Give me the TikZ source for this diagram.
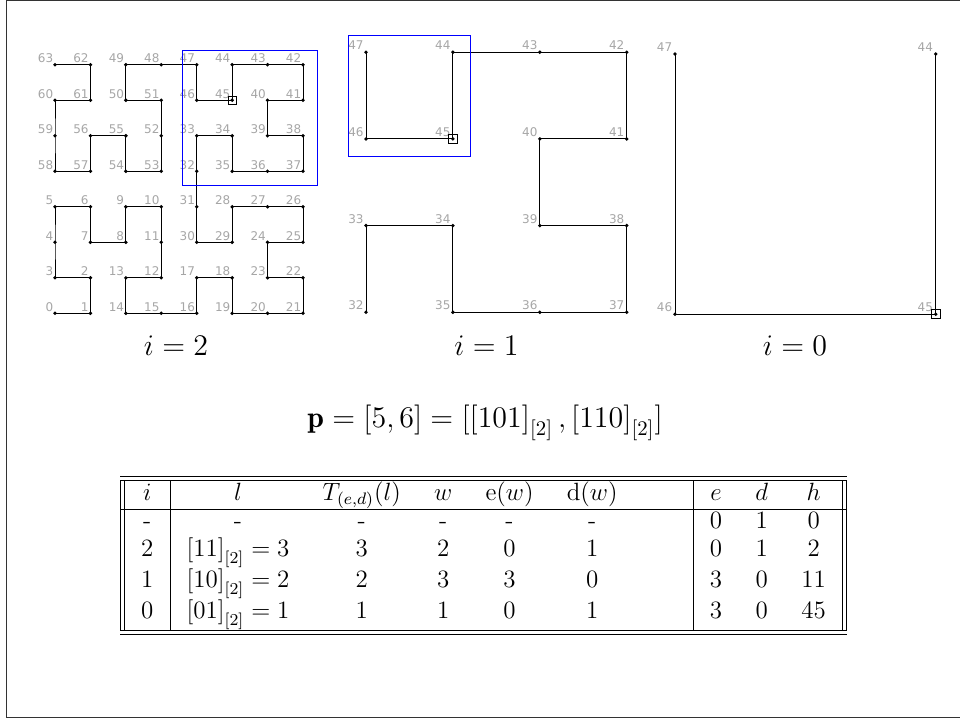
\documentclass[tikz,border=0pt]{standalone}
\usepackage{fontspec}
\newfontfamily\lblfont{DejaVu Sans}
\tikzset{
  curve/.style={line width=0.85pt, black},
  dotp/.style={fill=black},
  lbl/.style={anchor=south east, inner sep=1.6pt, text=black!35, font=\fontsize{12}{12}\selectfont\lblfont},
  markbox/.style={draw=black, line width=0.8pt, minimum size=8.5pt, inner sep=0pt},
  selbox/.style={draw=blue, line width=0.9pt},
  ttl/.style={scale=2.08, inner sep=0pt, anchor=base, font=\Large},
}
\begin{document}
\begin{tikzpicture}[x=1pt,y=-1pt]
\useasboundingbox (0,0) rectangle (960,718);
% outer frame
\draw[line width=1pt, black!80] (962,0.6) -- (6.5,0.6) -- (6.5,717.2) -- (962,717.2);

% ---------- level i=2 ----------
\foreach \c/\r [count=\k from 0] in {0/0,1/0,1/1,0/1,0/2,0/3,1/3,1/2,2/2,2/3,3/3,3/2,3/1,2/1,2/0,3/0,4/0,4/1,5/1,5/0,6/0,7/0,7/1,6/1,6/2,7/2,7/3,6/3,5/3,5/2,4/2,4/3,4/4,4/5,5/5,5/4,6/4,7/4,7/5,6/5,6/6,7/6,7/7,6/7,5/7,5/6,4/6,4/7,3/7,2/7,2/6,3/6,3/5,3/4,2/4,2/5,1/5,1/4,0/4,0/5,0/6,1/6,1/7,0/7}
  \coordinate (a\k) at ({55+35.43*\c},{313.3-35.51*\r});
\draw[curve] (a0) \foreach \k in {1,...,63}{ -- (a\k)};
\foreach \k in {0,...,63}{
  \fill[dotp] (a\k) circle (1.9pt);
  \node[lbl] (la\k) at (a\k) {\k};
}
\draw[selbox] (182.3,50.7) rectangle (317,185.7);
\node[markbox] (sqa) at (a45) {};
\node[ttl] (t2) at (176,355) {$i=2$};

% ---------- level i=1 ----------
\foreach \c/\r [count=\k from 32] in {0/0,0/1,1/1,1/0,2/0,3/0,3/1,2/1,2/2,3/2,3/3,2/3,1/3,1/2,0/2,0/3}
  \coordinate (b\k) at ({366+86.9*\c},{312.3-86.7*\r});
\draw[curve] (b32) \foreach \k in {33,...,47}{ -- (b\k)};
\foreach \k in {32,...,47}{
  \fill[dotp] (b\k) circle (1.9pt);
  \node[lbl, inner sep=2.2pt] (lb\k) at (b\k) {\k};
}
\draw[selbox] (348.7,35) rectangle (470.3,156.3);
\node[markbox, minimum size=9pt] (sqb) at (b45) {};
\node[ttl] (t1) at (486.5,355) {$i=1$};

% ---------- level i=0 ----------
\foreach \c/\r [count=\k from 44] in {1/1,1/0,0/0,0/1}
  \coordinate (c\k) at ({675+260.7*\c},{314.3-260.3*\r});
\draw[curve] (c44) -- (c45) -- (c46) -- (c47);
\foreach \k in {44,...,47}{
  \fill[dotp] (c\k) circle (1.9pt);
  \node[lbl, inner sep=2.6pt] (lc\k) at (c\k) {\k};
}
\node[markbox, minimum size=9pt] (sqc) at (c45) {};
\node[ttl] (t0) at (795,355) {$i=0$};

% ---------- formula ----------
\node[ttl] (form) at (485,427) {$\mathbf{p}=[5,6]=\bigl[{[101]}_{[2]}\,,{[110]}_{[2]}\bigr]$};

% ---------- table ----------
\node[scale=2.08, inner sep=0pt, anchor=north] (tab) at (483.5,475.6) {%
\large
\setlength{\tabcolsep}{8pt}%
\renewcommand{\arraystretch}{0.95}%
\begin{tabular}{||c|lcccc@{\hspace{36.4pt}}|ccc||}
\hline\hline
$i$ & \multicolumn{1}{c}{$l$} & $T_{(e,d)}(l)$ & $w$ & $\mathrm{e}(w)$ & $\mathrm{d}(w)$ & $e$ & $d$ & $h$\\
\hline
- & \multicolumn{1}{c}{-} & - & - & - & - & $0$ & $1$ & $0$\\
$2$ & ${[11]}_{[2]}=3$ & $3$ & $2$ & $0$ & $1$ & $0$ & $1$ & $2$\\
$1$ & ${[10]}_{[2]}=2$ & $2$ & $3$ & $3$ & $0$ & $3$ & $0$ & $11$\\
$0$ & ${[01]}_{[2]}=1$ & $1$ & $1$ & $0$ & $1$ & $3$ & $0$ & $45$\\
\hline\hline
\end{tabular}};
\end{tikzpicture}
\end{document}
